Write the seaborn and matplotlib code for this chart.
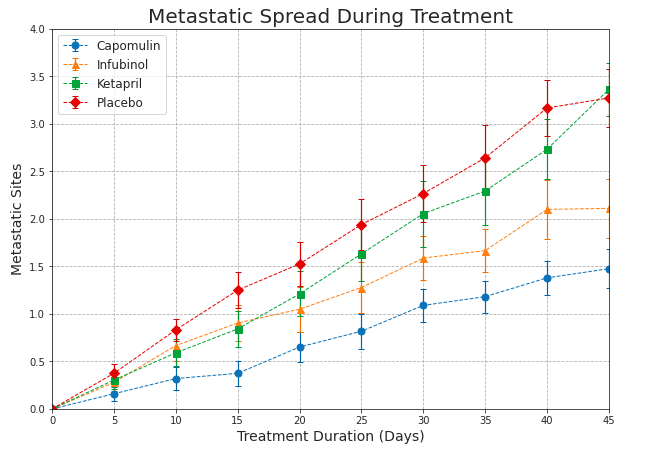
import numpy as np
import pandas as pd
import matplotlib
matplotlib.use('Agg')
import matplotlib.pyplot as plt
import seaborn as sns

days = [0, 5, 10, 15, 20, 25, 30, 35, 40, 45]
drugs = ['Capomulin', 'Infubinol', 'Ketapril', 'Placebo']

capomulin = [0.0, 0.160, 0.320, 0.375, 0.652, 0.818, 1.090, 1.182, 1.380, 1.476]
infubinol = [0.0, 0.280, 0.667, 0.905, 1.050, 1.278, 1.588, 1.667, 2.100, 2.111]
ketapril = [0.0, 0.304, 0.591, 0.842, 1.211, 1.632, 2.056, 2.294, 2.733, 3.364]
placebo = [0.0, 0.375, 0.833, 1.250, 1.526, 1.941, 2.267, 2.643, 3.167, 3.273]

capomulin_sem = [0.0, 0.075, 0.125, 0.132, 0.162, 0.182, 0.173, 0.169, 0.176, 0.203]
infubinol_sem = [0.0, 0.092, 0.159, 0.194, 0.235, 0.266, 0.228, 0.225, 0.314, 0.309]
ketapril_sem = [0.0, 0.098, 0.142, 0.191, 0.237, 0.288, 0.347, 0.361, 0.316, 0.279]
placebo_sem = [0.0, 0.101, 0.115, 0.190, 0.234, 0.264, 0.300, 0.341, 0.297, 0.304]

values = [capomulin, infubinol, ketapril, placebo]
sems = [capomulin_sem, infubinol_sem, ketapril_sem, placebo_sem]

colors = ['#0a72b8', '#ff7f0e', '#00a339', '#e60000']
err_colors = ['#0064a8', '#f07000', '#009432', '#d20000']
markers = ['o', '^', 's', 'D']

sns.set_style("ticks")

fig = plt.figure(figsize=(9, 6.35), dpi=72)
ax = fig.add_axes([52/648, 1 - 409/457, 557/648, 380/457])

for drug, v, s, c, ec, m in zip(drugs, values, sems, colors, err_colors, markers):
    ax.errorbar(days, v, yerr=s, color=c, ecolor=ec, marker=m, markersize=7,
                linestyle='--', linewidth=1, capsize=3, elinewidth=1.2,
                label=drug)

ax.set_xlim(0, 45)
ax.set_ylim(0, 4.0)
ax.set_xticks(np.arange(0, 46, 5))
ax.set_yticks(np.arange(0, 4.01, 0.5))
ax.grid(True, linestyle='--', color='#b0b0b0', linewidth=0.8)

ax.set_title('Metastatic Spread During Treatment', fontsize=20)
ax.set_xlabel('Treatment Duration (Days)', fontsize=14)
ax.set_ylabel('Metastatic Sites', fontsize=14)
ax.legend(loc='upper left', fontsize=12)

fig.savefig('out.png', dpi=72)
